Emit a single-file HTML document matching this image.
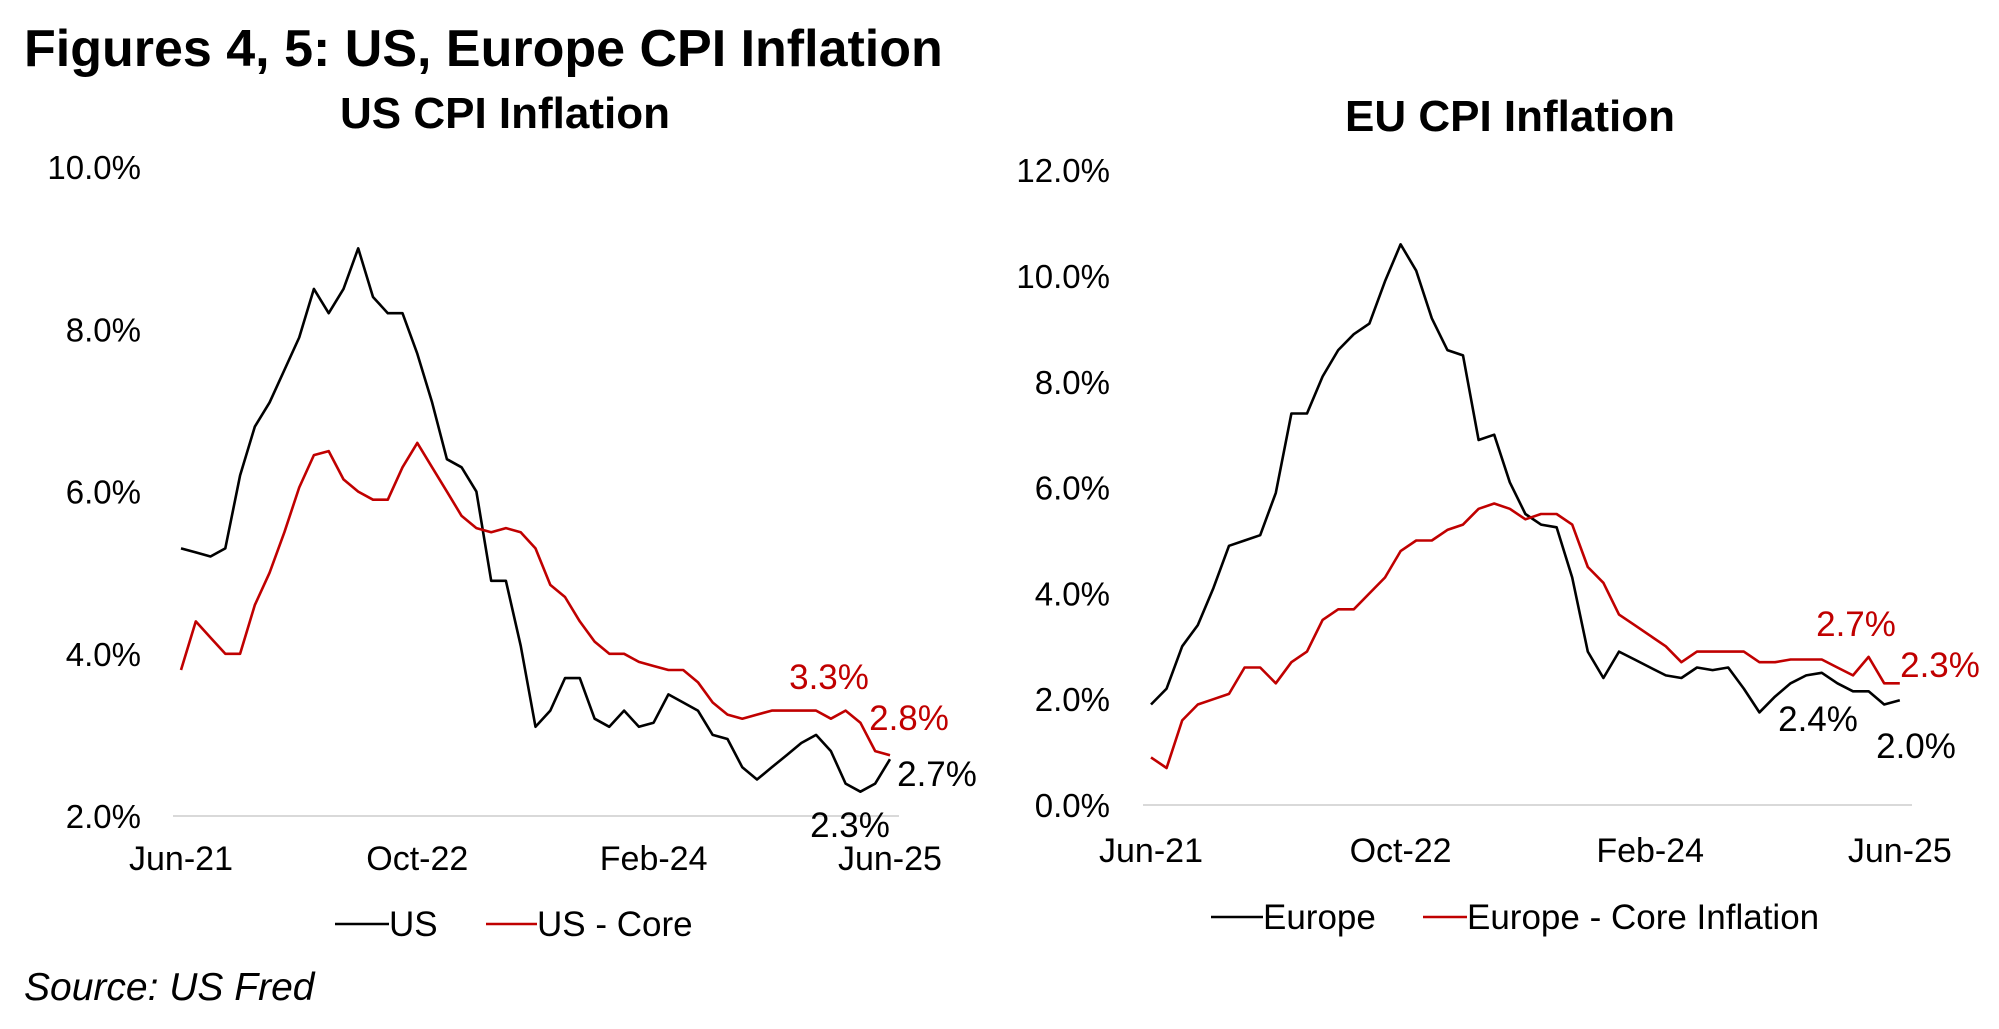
<!DOCTYPE html>
<html><head><meta charset="utf-8"><style>
html,body{margin:0;padding:0;background:#fff;}
svg{display:block;font-family:"Liberation Sans",Arial,sans-serif;}
</style></head><body>
<svg id="chart" width="1999" height="1029" viewBox="0 0 1999 1029" xmlns="http://www.w3.org/2000/svg">
<text x="24" y="66" font-size="52" font-weight="bold" fill="#000">Figures 4, 5: US, Europe CPI Inflation</text>
<text x="505" y="128" font-size="44" font-weight="bold" text-anchor="middle" fill="#000">US CPI Inflation</text>
<text x="1510" y="131" font-size="44" font-weight="bold" text-anchor="middle" fill="#000">EU CPI Inflation</text>
<text x="24" y="1000" font-size="39" font-style="italic" fill="#000">Source: US Fred</text>
<g id="us"></g><g id="eu"></g>
</svg>
<script>
const NS="http://www.w3.org/2000/svg";
const usXTicks=["Jun-21","Oct-22","Feb-24","Jun-25"];
const usXTickIdx=[0,16,32,48];
const usYTicks=[2,4,6,8,10];
const usHeadline=[5.3,5.25,5.2,5.3,6.2,6.8,7.1,7.5,7.9,8.5,8.2,8.5,9.0,8.4,8.2,8.2,7.7,7.1,6.4,6.3,6.0,4.9,4.9,4.1,3.1,3.3,3.7,3.7,3.2,3.1,3.3,3.1,3.15,3.5,3.4,3.3,3.0,2.95,2.6,2.45,2.6,2.75,2.9,3.0,2.8,2.4,2.3,2.4,2.7];
const usCore=[3.8,4.4,4.2,4.0,4.0,4.6,5.0,5.5,6.05,6.45,6.5,6.15,6.0,5.9,5.9,6.3,6.6,6.3,6.0,5.7,5.55,5.5,5.55,5.5,5.3,4.85,4.7,4.4,4.15,4.0,4.0,3.9,3.85,3.8,3.8,3.65,3.4,3.25,3.2,3.25,3.3,3.3,3.3,3.3,3.2,3.3,3.15,2.8,2.75];
const usLabels=[{t:"3.3%",x:829,y:689,c:"#c00000"},{t:"2.8%",x:909,y:730,c:"#c00000"},{t:"2.7%",x:937,y:786,c:"#000"},{t:"2.3%",x:850,y:837,c:"#000"}];
const euXTicks=["Jun-21","Oct-22","Feb-24","Jun-25"];
const euXTickIdx=[0,16,32,48];
const euYTicks=[0,2,4,6,8,10,12];
const euHeadline=[1.9,2.2,3.0,3.4,4.1,4.9,5.0,5.1,5.9,7.4,7.4,8.1,8.6,8.9,9.1,9.9,10.6,10.1,9.2,8.6,8.5,6.9,7.0,6.1,5.5,5.3,5.25,4.3,2.9,2.4,2.9,2.75,2.6,2.45,2.4,2.6,2.55,2.6,2.2,1.75,2.05,2.3,2.45,2.5,2.3,2.15,2.15,1.9,1.98];
const euCore=[0.9,0.7,1.6,1.9,2.0,2.1,2.6,2.6,2.3,2.7,2.9,3.5,3.7,3.7,4.0,4.3,4.8,5.0,5.0,5.2,5.3,5.6,5.7,5.6,5.4,5.5,5.5,5.3,4.5,4.2,3.6,3.4,3.2,3.0,2.7,2.9,2.9,2.9,2.9,2.7,2.7,2.75,2.75,2.75,2.6,2.45,2.8,2.3,2.3];
const euLabels=[{t:"2.7%",x:1856,y:636,c:"#c00000"},{t:"2.3%",x:1940,y:677,c:"#c00000"},{t:"2.4%",x:1818,y:731,c:"#000"},{t:"2.0%",x:1916,y:758,c:"#000"}];

function el(tag,attrs,parent,text){const e=document.createElementNS(NS,tag);for(const k in attrs)e.setAttribute(k,attrs[k]);if(text!==undefined)e.textContent=text;parent.appendChild(e);return e;}

function draw(g,cfg){
  const xs=i=>cfg.x0+i*cfg.dx;
  const ys=v=>cfg.yBase-(v-cfg.vMin)*cfg.dy;
  const grid=el("line",{x1:cfg.gx1,x2:cfg.gx2,y1:ys(cfg.vMin),y2:ys(cfg.vMin),stroke:"#d9d9d9","stroke-width":2},g);
  
  
  cfg.yTicks.forEach(v=>{const t=el("text",{x:cfg.yLabelX,y:ys(v)+12,"font-size":33,"text-anchor":"end",fill:"#000"},g,v.toFixed(1)+"%");
    
    });
  cfg.xTicks.forEach((s,k)=>{const t=el("text",{x:xs(cfg.xTickIdx[k]),y:cfg.xLabelY,"font-size":34,"text-anchor":"middle",fill:"#000"},g,s);
    
    });
  [[cfg.s1,"#000",cfg.n1],[cfg.s2,"#c00000",cfg.n2]].forEach(([d,c,n])=>{
    const p=el("polyline",{points:d.map((v,i)=>xs(i).toFixed(1)+","+ys(v).toFixed(1)).join(" "),fill:"none",stroke:c,"stroke-width":2.6,"stroke-linejoin":"round"},g);
    
    });
  cfg.labels.forEach(l=>{const t=el("text",{x:l.x,y:l.y,"font-size":35,"text-anchor":"middle",fill:l.c},g,l.t);
    
    });
  cfg.legend.forEach(L=>{const lg=el("g",{},g);
    
    
    el("line",{x1:L.x1,x2:L.x2,y1:L.y-12,y2:L.y-12,stroke:L.c,"stroke-width":2.6},lg);
    el("text",{x:L.x2,y:L.y,"font-size":35,fill:"#000"},lg,L.t);});
}
draw(document.getElementById("us"),{x0:181,dx:14.77,yBase:816,vMin:2,dy:81.1,gx1:173,gx2:899,yLabelX:141,xLabelY:870,
  yTicks:usYTicks,xTicks:usXTicks,xTickIdx:usXTickIdx,s1:usHeadline,s2:usCore,n1:"us-headline-line",n2:"us-core-line",labels:usLabels,
  legend:[{x1:335,x2:389,y:936,c:"#000",t:"US"},{x1:486,x2:537,y:936,c:"#c00000",t:"US - Core"}]});
draw(document.getElementById("eu"),{x0:1151,dx:15.6,yBase:805,vMin:0,dy:52.9,gx1:1143,gx2:1912,yLabelX:1110,xLabelY:862,
  yTicks:euYTicks,xTicks:euXTicks,xTickIdx:euXTickIdx,s1:euHeadline,s2:euCore,n1:"europe-headline-line",n2:"europe-core-line",labels:euLabels,
  legend:[{x1:1211,x2:1263,y:929,c:"#000",t:"Europe"},{x1:1423,x2:1467,y:929,c:"#c00000",t:"Europe - Core Inflation"}]});
</script>
</body></html>
